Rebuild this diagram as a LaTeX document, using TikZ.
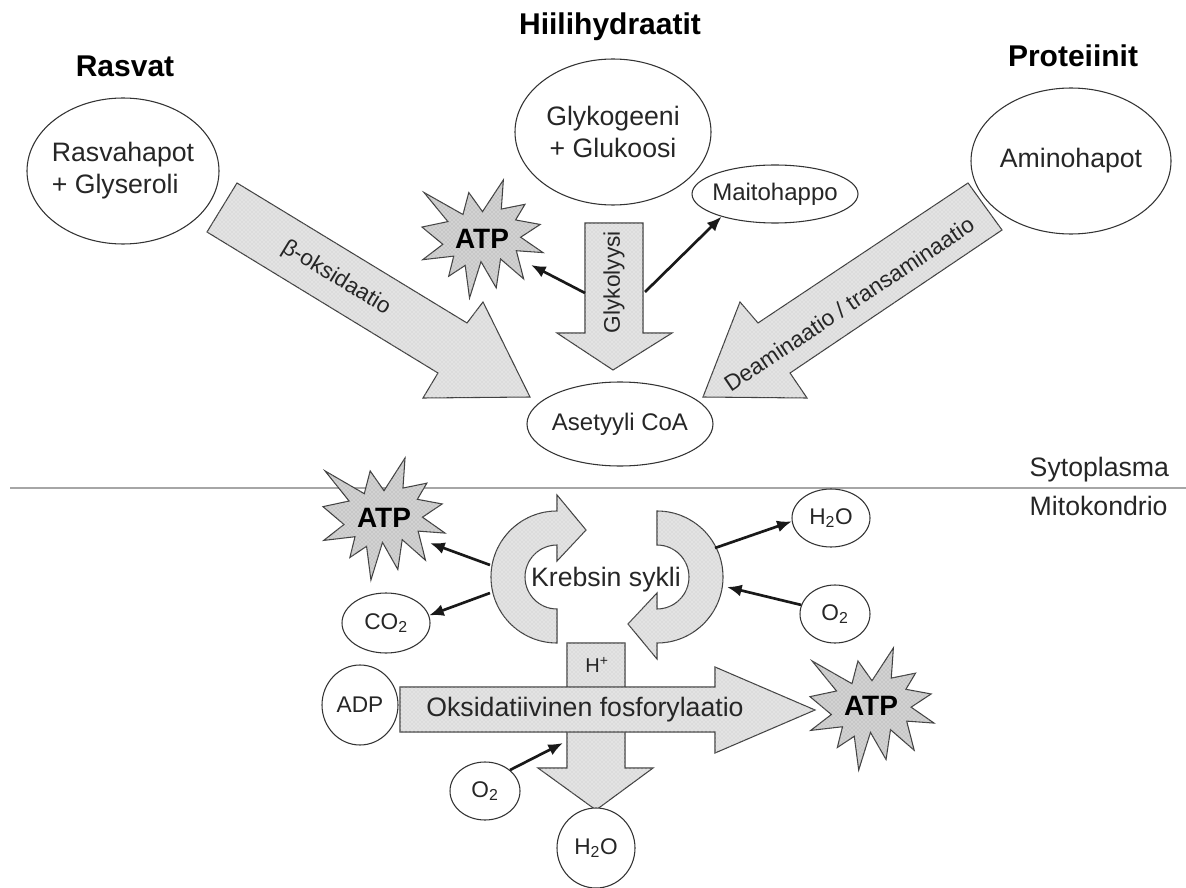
\documentclass[tikz,border=0pt]{standalone}
\usepackage{fontspec}
\setmainfont{Liberation Sans}
\usetikzlibrary{shapes.geometric,arrows.meta,calc,patterns}

\tikzset{
  every node/.style={text=black!85, font=\fontsize{20}{24}\selectfont},
  titletext/.style={text=black, font=\fontsize{22.5}{27}\selectfont\bfseries},
  oval/.style 2 args={ellipse, draw=black!80, line width=0.8pt, fill=white,
      inner sep=-10pt, minimum width=#1*0.75pt, minimum height=#2*0.75pt},
  blockarrow/.style={draw=black!75, line width=0.8pt, fill=gray!22,
      postaction={pattern=crosshatch dots, pattern color=gray!45}},
  burst/.style={draw=black!75, line width=0.8pt, fill=gray!35,
      postaction={pattern=crosshatch dots, pattern color=gray!70}},
  conn/.style={line width=2pt, black!90, -{Latex[length=11pt,width=9pt]}},
  smalltext/.style={font=\fontsize{18}{21}\selectfont},
  arrowtext/.style={font=\fontsize{17}{20}\selectfont},
  chemtext/.style={font=\fontsize{17}{20}\selectfont},
  atptext/.style={text=black, font=\fontsize{21}{24}\selectfont\bfseries},
  sepline/.style={draw=gray!70, line width=0.8pt}
}

\newcommand{\burstshape}[4]{%
  \begin{scope}[shift={(#1,#2)}, xscale=#3/100, yscale=#4/100]
    \draw[burst] (50,26.85) -- (67.23,0) -- (65.53,24.65) -- (85.09,20.63)
      -- (77.32,33.87) -- (97.67,37.67) -- (81.51,48.50) -- (100,61.53)
      -- (77.95,59.92) -- (84.00,83.77) -- (64.91,66.93) -- (61.33,91.38)
      -- (48.76,69.14) -- (39.28,100) -- (35.72,72.35) -- (22.05,81.56)
      -- (26.24,64.52) -- (0.63,67.53) -- (17.23,54.51) -- (0,39.88)
      -- (21.42,35.26) -- (1.71,10.63) -- (33.85,29.26) -- (38.67,10.63) -- cycle;
  \end{scope}}

\begin{document}
\begin{tikzpicture}[x=0.75pt, y=-0.75pt]
\useasboundingbox (0,0) rectangle (1186,888);

% separator line
\draw[sepline] (10,488) -- (1186,488);
\node[anchor=west] (syt) at (1025,470) {Sytoplasma};
\node[anchor=west] (mit) at (1025,506) {Mitokondrio};

% titles
\node[titletext] (tras) at (125,66) {Rasvat};
\node[titletext] (thii) at (610,27) {Hiilihydraatit};
\node[titletext] (tpro) at (1073,56) {Proteiinit};

% block arrows (top)
\draw[blockarrow] (237,183) -- (467,323) -- (483,302) -- (530,397) -- (423,398)
  -- (438,373) -- (207,232) -- cycle;
\draw[blockarrow] (585,223) -- (643,223) -- (643,333) -- (672,333) -- (613,370)
  -- (557,333) -- (585,333) -- cycle;
\draw[blockarrow] (968,183) -- (1002,230) -- (790,373) -- (807,398) -- (703,397)
  -- (740,302) -- (758,323) -- cycle;

\node[arrowtext, rotate=-31.3] (beta) at (336,278) {β-oksidaatio};
\node[arrowtext, rotate=90] (glyk) at (614,282) {Glykolyysi};
\node[arrowtext, rotate=33.7] (deam) at (849,304) {Deaminaatio / transaminaatio};

% ovals (top)
\node[oval={192}{146}, align=left] (ras) at (123,171) {Rasvahapot\\+ Glyseroli};
\node[oval={196}{146}, align=center] (gly) at (613,132) {Glykogeeni\\+ Glukoosi};
\node[oval={200}{146}] (amino) at (1071,161) {Aminohapot};
\node[oval={166}{58}, smalltext] (maito) at (775,194) {Maitohappo};
\node[oval={186}{84}, smalltext] (aset) at (620,424) {Asetyyli CoA};

% ATP burst (top)
\burstshape{422}{180}{121}{118}
\node[atptext] (atp1) at (482,239) {ATP};

% connectors (top)
\coordinate (g1) at (585,293);
\coordinate (a1) at (531,265);
\draw[conn] (g1) -- (a1);
\coordinate (g2) at (645,292);
\draw[conn] (g2) -- (maito.203);

% Krebs cycle arrows
\draw[blockarrow] (557,643) arc[start angle=90, end angle=270, radius=66]
  -- (557,495) -- (586,530) -- (557,561) -- (557,545)
  arc[start angle=270, end angle=90, radius=32] -- cycle;
\draw[blockarrow] (657,511) arc[start angle=270, end angle=450, radius=66]
  -- (657,659) -- (628,624) -- (657,593) -- (657,609)
  arc[start angle=90, end angle=-90, radius=32] -- cycle;
\node (krebs) at (606,580) {Krebsin sykli};

% ATP burst (mitochondria left)
\burstshape{323}{458}{122}{122}
\node[atptext] (atp2) at (384,518) {ATP};

% small ovals
\node[oval={88}{60}, chemtext] (co2) at (386,623) {CO\textsubscript{2}};
\node[oval={78}{58}, chemtext] (h2oa) at (831,518) {H\textsubscript{2}O};
\node[oval={70}{58}, chemtext] (o2a) at (835,614) {O\textsubscript{2}};

\coordinate (k1) at (490,565);
\coordinate (a2) at (430,543);
\draw[conn] (k1) -- (a2);
\coordinate (k2) at (490,593);
\draw[conn] (k2) -- (co2.10);
\coordinate (k3) at (715,548);
\draw[conn] (k3) -- (h2oa.185);
\coordinate (k4) at (727,587);
\draw[conn] (o2a.165) -- (k4);

% oxidative phosphorylation
\draw[blockarrow] (567,643) -- (625,643) -- (625,768) -- (653,768) -- (596,810)
  -- (538,768) -- (567,768) -- cycle;
\node[chemtext, font=\fontsize{15}{18}\selectfont] (hplus) at (597,665) {H\textsuperscript{+}};
\draw[blockarrow] (400,687) -- (715,687) -- (715,667) -- (815,710) -- (715,753)
  -- (715,732) -- (400,732) -- cycle;
\node (oks) at (585,710) {Oksidatiivinen fosforylaatio};

\node[oval={76}{80}, chemtext] (adp) at (360,705) {ADP};
\node[oval={70}{58}, chemtext] (o2b) at (485,791) {O\textsubscript{2}};
\node[oval={78}{80}, chemtext] (h2ob) at (596,848) {H\textsubscript{2}O};

\coordinate (ox) at (563,743);
\draw[conn] (o2b.40) -- (ox);

% ATP burst (right)
\burstshape{810}{648}{124}{122}
\node[atptext] (atp3) at (871,706) {ATP};

\end{tikzpicture}
\end{document}
